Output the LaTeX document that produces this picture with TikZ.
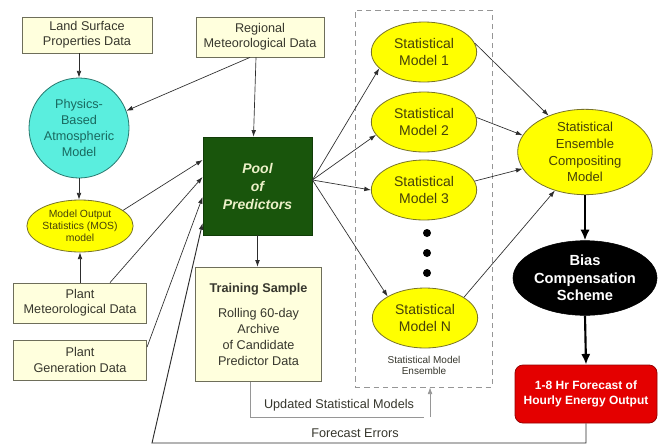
\documentclass[tikz,border=0pt]{standalone}
\usepackage{fontspec}
\setmainfont{Liberation Sans}
\usetikzlibrary{arrows.meta,shapes.geometric}
\definecolor{datafill}{RGB}{255,255,221}
\definecolor{boxline}{RGB}{110,110,90}
\definecolor{datatext}{RGB}{55,55,45}
\definecolor{cyanfill}{RGB}{90,238,222}
\definecolor{cyanline}{RGB}{40,120,110}
\definecolor{cyantext}{RGB}{25,105,95}
\definecolor{ymod}{RGB}{255,255,0}
\definecolor{yline}{RGB}{120,115,40}
\definecolor{ytext}{RGB}{70,65,10}
\definecolor{poolfill}{RGB}{25,85,12}
\definecolor{pooltext}{RGB}{235,240,200}
\definecolor{redfill}{RGB}{228,0,0}
\definecolor{redline}{RGB}{150,0,0}
\definecolor{linec}{RGB}{45,45,45}
\definecolor{lightline}{RGB}{150,150,150}
\begin{document}
\begin{tikzpicture}[x=0.75pt,y=-0.75pt]
\tikzset{
 databox/.style={draw=boxline, fill=datafill, line width=0.6pt, align=center, inner sep=0pt, text=datatext, font=\fontsize{9.5}{11.5}\selectfont},
 ymodel/.style={ellipse, draw=yline, fill=ymod, line width=0.6pt, align=center, inner sep=0pt, minimum width=79pt, minimum height=45pt, text=ytext, font=\fontsize{10.5}{12.75}\selectfont},
 arr/.style={-{Latex[length=5pt,width=3.5pt]}, draw=linec, line width=0.5pt},
 bigarr/.style={-{Latex[length=8pt,width=7pt]}, line width=1.6pt, draw=black},
 lbl/.style={inner sep=0pt, text=datatext, font=\fontsize{9.5}{11.5}\selectfont},
 dotnode/.style={circle, fill=black, inner sep=0pt, minimum size=6pt},
}
\useasboundingbox[fill=white] (0,0) rectangle (660,447);

% dashed ensemble frame
\node[draw=lightline, dashed, dash pattern=on 4pt off 3pt, line width=0.5pt, minimum width=102.75pt, minimum height=282.75pt, inner sep=0pt] (ensbox) at (423.5,198.5) {};
\node[inner sep=0pt, align=center, text=datatext, font=\fontsize{7.5}{8.5}\selectfont] (enscap) at (424,365.5) {Statistical Model\\Ensemble};

% left inputs
\node[databox, minimum width=97.5pt, minimum height=27pt] (land) at (87,35) {Land Surface\\Properties Data};
\node[databox, minimum width=96pt, minimum height=30pt] (regional) at (260,37) {Regional\\Meteorological Data};
\node[circle, draw=cyanline, fill=cyanfill, line width=0.6pt, minimum size=75pt, inner sep=0pt, align=center, text=cyantext, font=\fontsize{9.5}{12}\selectfont] (physics) at (79,128) {Physics-\\Based\\Atmospheric\\Model};
\node[ellipse, draw=yline, fill=ymod, line width=0.6pt, minimum width=79pt, minimum height=39pt, inner sep=0pt, align=center, text=ytext, font=\fontsize{7.8}{9}\selectfont] (mos) at (80,226) {Model Output\\Statistics (MOS)\\model};
\node[databox, minimum width=100pt, minimum height=30pt] (plantmet) at (80,303) {Plant\\Meteorological Data};
\node[databox, minimum width=100pt, minimum height=30pt] (plantgen) at (80,360) {Plant\\Generation Data};

% pool and training
\node[fill=poolfill, draw=poolfill!70!black, minimum width=82pt, minimum height=73.5pt, inner sep=0pt, align=center, text=pooltext, font=\fontsize{10.5}{13.5}\selectfont\bfseries\itshape] (pool) at (257.5,186) {Pool\\of\\Predictors};
\node[databox, minimum width=95pt, minimum height=86pt, font=\fontsize{9.5}{12}\selectfont] (train) at (258.5,324.5) {\textbf{Training Sample}\\[7pt]Rolling 60-day\\Archive\\of Candidate\\Predictor Data};

% statistical models
\node[ymodel] (sm1) at (424,52) {Statistical\\Model 1};
\node[ymodel] (sm2) at (424,122) {Statistical\\Model 2};
\node[ymodel] (sm3) at (424,190) {Statistical\\Model 3};
\node[ymodel] (smN) at (425,318) {Statistical\\Model N};
\node[dotnode] (d1) at (427,233) {};
\node[dotnode] (d2) at (427,253) {};
\node[dotnode] (d3) at (427,273) {};

% right column
\node[ellipse, draw=yline, fill=ymod, line width=0.6pt, minimum width=101pt, minimum height=64pt, inner sep=0pt, align=center, text=ytext, font=\fontsize{9.8}{12.5}\selectfont] (ens) at (585,152) {Statistical\\Ensemble\\Compositing\\Model};
\node[ellipse, fill=black, draw=black, minimum width=101pt, minimum height=56pt, inner sep=0pt, align=center, text=white, font=\fontsize{11}{13}\selectfont\bfseries] (bias) at (585,278) {Bias\\Compensation\\Scheme};
\node[rounded corners=6pt, fill=redfill, draw=redline, line width=0.6pt, minimum width=106.5pt, minimum height=43.5pt, inner sep=0pt, align=center, text=white, font=\fontsize{9}{11}\selectfont\bfseries] (out) at (586,394) {1-8 Hr Forecast of\\Hourly Energy Output};

% connectors: inputs
\draw[arr] (land.south -| physics.north) -- (physics.north);
\draw[arr] ([xshift=-7.5pt]regional.south) -- (physics.20);
\draw[arr] ([xshift=-3pt]regional.south |- regional.south) -- ([xshift=-3pt]pool.north);
\draw[arr] (physics.south) -- (physics.south |- mos.north);
\draw[arr] (plantmet.north -| mos.south) -- (mos.south);
\draw[arr] (mos.20) -- ([yshift=19.5pt]pool.west);
\draw[arr] ([xshift=22.5pt]plantmet.north) -- ([yshift=6.75pt]pool.west);
\draw[arr] ([yshift=9.75pt]plantgen.east) -- ([yshift=-8.25pt]pool.west);
\draw[arr] (pool.south) -- (pool.south |- train.north);

% pool to statistical models
\coordinate (pe) at ([yshift=4.5pt]pool.east);
\draw[arr] (pe) -- (sm1.200);
\draw[arr] (pe) -- (sm2.195);
\draw[arr] (pe) -- (sm3.west);
\draw[arr] (pe) -- (smN.150);

% statistical models to ensemble
\draw[arr] (sm1.10) -- (ens.135);
\draw[arr] (sm2.5) -- (ens.165);
\draw[arr] (sm3.10) -- (ens.195);
\draw[arr] (smN.28) -- (ens.232);
\draw[bigarr] (ens.south) -- (bias.north);
\draw[bigarr] (bias.south) -- (out.north);

% feedback loops
\coordinate (us1) at (250,417);
\draw[draw=lightline, line width=0.6pt] (train.south -| us1) -- (us1) -- (us1 -| ensbox.south) ++(4.9pt,0) coordinate (us2);
\draw[arr, draw=lightline] (us2) -- ([xshift=4.9pt]ensbox.south);
\node[lbl] (updlbl) at (339,405) {Updated Statistical Models};

\coordinate (fe2) at (152,443);
\draw[arr, line width=0.7pt] (out.south) |- (fe2) -- ([yshift=-27.75pt]pool.west);
\node[lbl] (felbl) at (355,433) {Forecast Errors};
\end{tikzpicture}
\end{document}
